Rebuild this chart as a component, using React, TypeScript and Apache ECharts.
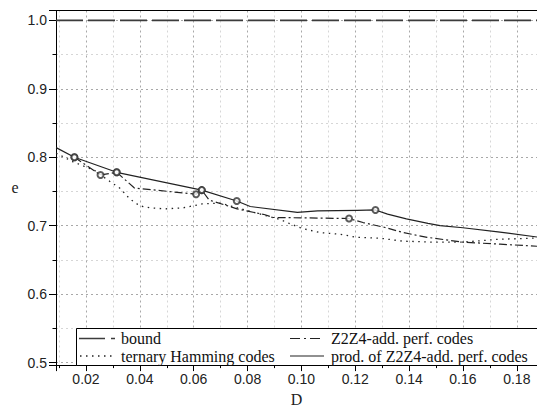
import React, { useEffect, useRef } from "react";
import * as echarts from "echarts";

// Axis ranges
const X_MIN = 0.00886;
const X_MAX = 0.1875;
const Y_MIN = 0.4964;
const Y_MAX = 1.0143;

// bound (dashed, e = 1)
const boundD = [0.00886, 0.1875];
const boundE = [1.0, 1.0];

// ternary Hamming codes (dotted)
const ternD = [0.0089, 0.0152, 0.0233, 0.0278, 0.0326, 0.0363, 0.040, 0.0438, 0.0493, 0.056, 0.0597, 0.0631, 0.0698, 0.0921, 0.0947, 0.1002, 0.1069, 0.1144, 0.1207, 0.1292, 0.1378, 0.1489, 0.16, 0.1727, 0.1875];
const ternE = [0.806, 0.7933, 0.7804, 0.7675, 0.7547, 0.739, 0.729, 0.726, 0.7246, 0.726, 0.729, 0.7318, 0.733, 0.709, 0.7046, 0.696, 0.690, 0.6874, 0.683, 0.6817, 0.6774, 0.676, 0.676, 0.680, 0.682];

// Z2Z4-additive perfect codes (dash-dot)
const z2z4D = [0.0157, 0.0254, 0.0314, 0.038, 0.0609, 0.063, 0.0657, 0.0761, 0.0865, 0.0895, 0.1177, 0.1229, 0.1311, 0.1378, 0.1467, 0.16, 0.1738, 0.1875];
const z2z4E = [0.800, 0.774, 0.778, 0.755, 0.746, 0.752, 0.7375, 0.7246, 0.716, 0.712, 0.7105, 0.7046, 0.6974, 0.690, 0.683, 0.676, 0.673, 0.670];
const z2z4MarkD = [0.0157, 0.0254, 0.0314, 0.0609, 0.063, 0.1177];
const z2z4MarkE = [0.800, 0.774, 0.778, 0.746, 0.752, 0.7105];

// product of Z2Z4-additive perfect codes (solid)
const prodD = [0.0089, 0.0157, 0.0314, 0.063, 0.076, 0.081, 0.0985, 0.106, 0.1207, 0.1275, 0.132, 0.139, 0.147, 0.1515, 0.16, 0.173, 0.1875];
const prodE = [0.814, 0.800, 0.778, 0.752, 0.736, 0.728, 0.7195, 0.7217, 0.7225, 0.723, 0.717, 0.710, 0.7035, 0.700, 0.697, 0.691, 0.6835];
const prodMarkD = [0.0157, 0.0314, 0.063, 0.076, 0.1275];
const prodMarkE = [0.800, 0.778, 0.752, 0.736, 0.723];

const legendNames = ["bound", "ternary Hamming codes", "Z2Z4-add. perf. codes", "prod. of Z2Z4-add. perf. codes"];

const zip = (a: number[], b: number[]) => a.map((v, i) => [v, b[i]]);

export default function App() {
  const ref = useRef<HTMLDivElement>(null);
  useEffect(() => {
    if (!ref.current) return;
    const chart = echarts.init(ref.current, undefined, { renderer: "svg" });
    const labelFont = { fontFamily: "Liberation Sans", fontSize: 14, color: "#222" };
    const serif = "Liberation Serif";
    const gridMajor = { color: "#a8a8a8", width: 1, type: [2, 3] as any };
    const gridMinor = { color: "#d6d6d6", width: 1, type: [2, 3] as any };
    const legendText = (text: string, x: number, y: number) => ({
      type: "text",
      z: 101,
      x,
      y,
      style: { text, fontFamily: serif, fontSize: 16, fill: "#111", verticalAlign: "middle", align: "left" },
    });
    chart.setOption({
      animation: false,
      backgroundColor: "#fff",
      grid: { left: 56, right: 0, top: 10.5, bottom: 39.5, containLabel: false },
      xAxis: [
        {
          type: "value",
          min: X_MIN,
          max: X_MAX,
          minInterval: 0.02,
          maxInterval: 0.02,
          splitNumber: 9,
          axisLine: { show: true, onZero: false, lineStyle: { color: "#000", width: 1 } },
          axisTick: { show: true, length: 6, lineStyle: { color: "#000" } },
          minorTick: { show: true, splitNumber: 2, length: 3, lineStyle: { color: "#000" } },
          splitLine: { show: true, lineStyle: gridMajor },
          minorSplitLine: { show: true, lineStyle: gridMinor },
          axisLabel: { ...labelFont, margin: 7, showMinLabel: false, showMaxLabel: false, formatter: (v: number) => v.toFixed(2) },
          name: "D",
          nameLocation: "middle",
          nameGap: 29.5,
          nameTextStyle: { fontFamily: serif, fontSize: 16, color: "#222", verticalAlign: "middle" },
        },
        {
          type: "value",
          position: "top",
          min: X_MIN,
          max: X_MAX,
          axisLine: { show: true, onZero: false, lineStyle: { color: "#000", width: 1 } },
          axisTick: { show: false },
          axisLabel: { show: false },
          splitLine: { show: false },
        },
      ],
      yAxis: [
        {
          type: "value",
          min: Y_MIN,
          max: Y_MAX,
          minInterval: 0.1,
          maxInterval: 0.1,
          splitNumber: 5,
          axisLine: { show: true, onZero: false, lineStyle: { color: "#000", width: 1 } },
          axisTick: { show: true, length: 7, lineStyle: { color: "#000" } },
          minorTick: { show: true, splitNumber: 2, length: 3.5, lineStyle: { color: "#000" } },
          splitLine: { show: true, lineStyle: gridMajor },
          minorSplitLine: { show: true, lineStyle: gridMinor },
          axisLabel: { ...labelFont, margin: 9, showMinLabel: false, showMaxLabel: false, formatter: (v: number) => v.toFixed(1) },
          name: "e",
          nameLocation: "middle",
          nameRotate: 0,
          nameGap: 41,
          nameTextStyle: { fontFamily: serif, fontSize: 16, color: "#222", align: "center", verticalAlign: "middle" },
        },
      ],
      series: [
        {
          name: legendNames[0],
          type: "line",
          data: zip(boundD, boundE),
          symbol: "none",
          lineStyle: { color: "#3c3c3c", width: 1.8, type: [27, 5] },
        },
        {
          name: legendNames[1],
          type: "line",
          data: zip(ternD, ternE),
          symbol: "none",
          lineStyle: { color: "#222", width: 1.3, type: [1.5, 4.5] },
        },
        {
          name: legendNames[2],
          type: "line",
          data: zip(z2z4D, z2z4E),
          symbol: "none",
          lineStyle: { color: "#222", width: 1.2, type: [8, 3, 2, 3] },
        },
        {
          name: legendNames[3],
          type: "line",
          data: zip(prodD, prodE),
          symbol: "none",
          lineStyle: { color: "#222", width: 1.2, type: "solid" },
        },
        {
          type: "scatter",
          data: zip(z2z4MarkD, z2z4MarkE),
          symbol: "emptyCircle",
          symbolSize: 6,
          itemStyle: { color: "#333", borderColor: "#333", borderWidth: 0.8 },
          z: 5,
        },
        {
          type: "scatter",
          data: zip(prodMarkD, prodMarkE),
          symbol: "emptyCircle",
          symbolSize: 6,
          itemStyle: { color: "#333", borderColor: "#333", borderWidth: 0.8 },
          z: 5,
        },
      ],
      graphic: [
        {
          type: "rect",
          z: 100,
          shape: { x: 76.5, y: 328.5, width: 480, height: 37 },
          style: { fill: "#fff", stroke: "#000", lineWidth: 1 },
        },
        { type: "line", z: 101, shape: { x1: 79, y1: 338.5, x2: 115, y2: 338.5 }, style: { stroke: "#3c3c3c", lineWidth: 1.5, lineDash: [26, 6] } },
        { type: "line", z: 101, shape: { x1: 80, y1: 356, x2: 113, y2: 356 }, style: { stroke: "#222", lineWidth: 1.3, lineDash: [1.5, 4.5] } },
        { type: "line", z: 101, shape: { x1: 290, y1: 338.5, x2: 323, y2: 338.5 }, style: { stroke: "#222", lineWidth: 1.2, lineDash: [10, 4, 2, 4] } },
        { type: "line", z: 101, shape: { x1: 290, y1: 356, x2: 324, y2: 356 }, style: { stroke: "#222", lineWidth: 1.2 } },
        legendText(legendNames[0], 121, 338.2),
        legendText(legendNames[1], 121, 356.2),
        legendText(legendNames[2], 331, 338.2),
        legendText(legendNames[3], 331, 356.2),
      ],
    });
    return () => chart.dispose();
  }, []);
  return <div ref={ref} style={{ position: "fixed", left: 0, top: 0, width: 537, height: 412, background: "#fff" }} />;
}
